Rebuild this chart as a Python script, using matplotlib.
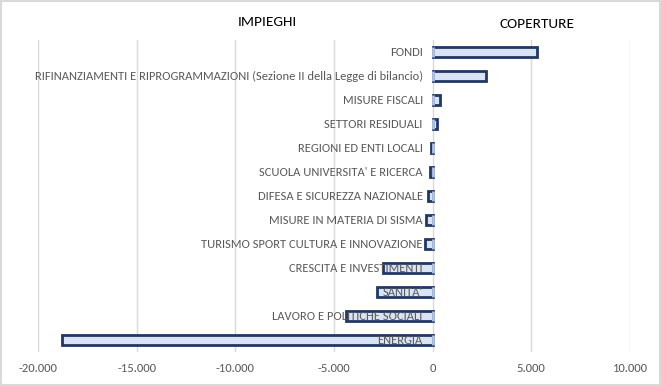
"""
Manovra: impieghi e coperture per settore (hbar chart)
"""

from matplotlib import pyplot
from matplotlib.ticker import FuncFormatter
from matplotlib.patches import Rectangle

OUTPUT_FILENAME = 'out.png'
IMAGE_DPI = 100
TEXT_COLOR = '#595959'
BAR_EDGE = '#1F3864'
BAR_FILL = '#DAE3F3'
ZERO_EDGE = '#B4C3E0'
GRID_COLOR = '#D9D9D9'

categories = [
    'FONDI',
    'RIFINANZIAMENTI E RIPROGRAMMAZIONI (Sezione II della Legge di bilancio)',
    'MISURE FISCALI',
    'SETTORI RESIDUALI',
    'REGIONI ED ENTI LOCALI',
    "SCUOLA UNIVERSITA' E RICERCA",
    'DIFESA E SICUREZZA NAZIONALE',
    'MISURE IN MATERIA DI SISMA',
    'TURISMO SPORT CULTURA E INNOVAZIONE',
    'CRESCITA E INVESTIMENTI',
    "SANITA'",
    'LAVORO E POLITICHE SOCIALI',
    'ENERGIA',
]
values = [5300, 2700, 350, 200, -100, -150, -250, -350, -400, -2500, -2800, -4400, -18800]
other_series = [0] * len(categories)

x_ticks = [-20000, -15000, -10000, -5000, 0, 5000, 10000]
titles = ['IMPIEGHI', 'COPERTURE']


def thousands(x, _):
    s = f'{abs(int(x)):,}'.replace(',', '.')
    return ('-' + s) if x < 0 else s


def main():
    pyplot.rcParams['font.family'] = ['Carlito', 'Liberation Sans Narrow', 'Archivo Narrow', 'DejaVu Sans']

    fig = pyplot.figure(figsize=(6.61, 3.86), dpi=IMAGE_DPI)
    ax = fig.add_axes([0.0575, 0.088, 0.8955, 0.808])

    rows = range(len(categories))
    ax.barh(rows, values, height=0.4, color=BAR_FILL, edgecolor=BAR_EDGE, lw=2, zorder=3)
    # second (near-zero) series, drawn on top like in the original sheet
    ax.barh(rows, other_series, height=0.4, color=BAR_FILL, edgecolor=ZERO_EDGE, lw=2, zorder=4)

    for row, label in zip(rows, categories):
        ax.text(-500, row, label, ha='right', va='center', fontsize=9,
                color=TEXT_COLOR, zorder=5)

    ax.set_xlim(-20000, 10000)
    ax.set_ylim(len(categories) - 0.5, -0.5)
    ax.set_xticks(x_ticks)
    ax.xaxis.set_major_formatter(FuncFormatter(thousands))
    ax.set_yticks([])
    ax.tick_params(axis='x', length=0, labelsize=9, labelcolor=TEXT_COLOR, pad=8)
    ax.grid(axis='x', color=GRID_COLOR, lw=1, zorder=0)
    ax.set_axisbelow(True)
    for spine in ax.spines.values():
        spine.set_visible(False)

    fig.text(267 / 661, 1 - 22 / 386, titles[0], ha='center', va='center', fontsize=11, color='black')
    fig.text(537 / 661, 1 - 24 / 386, titles[1], ha='center', va='center', fontsize=11, color='black')

    fig.patches.append(Rectangle((0.002, 0.003), 0.996, 0.994, transform=fig.transFigure,
                                 fill=False, edgecolor=GRID_COLOR, lw=1.5))

    fig.savefig(OUTPUT_FILENAME, dpi=IMAGE_DPI)


if __name__ == '__main__':
    main()
